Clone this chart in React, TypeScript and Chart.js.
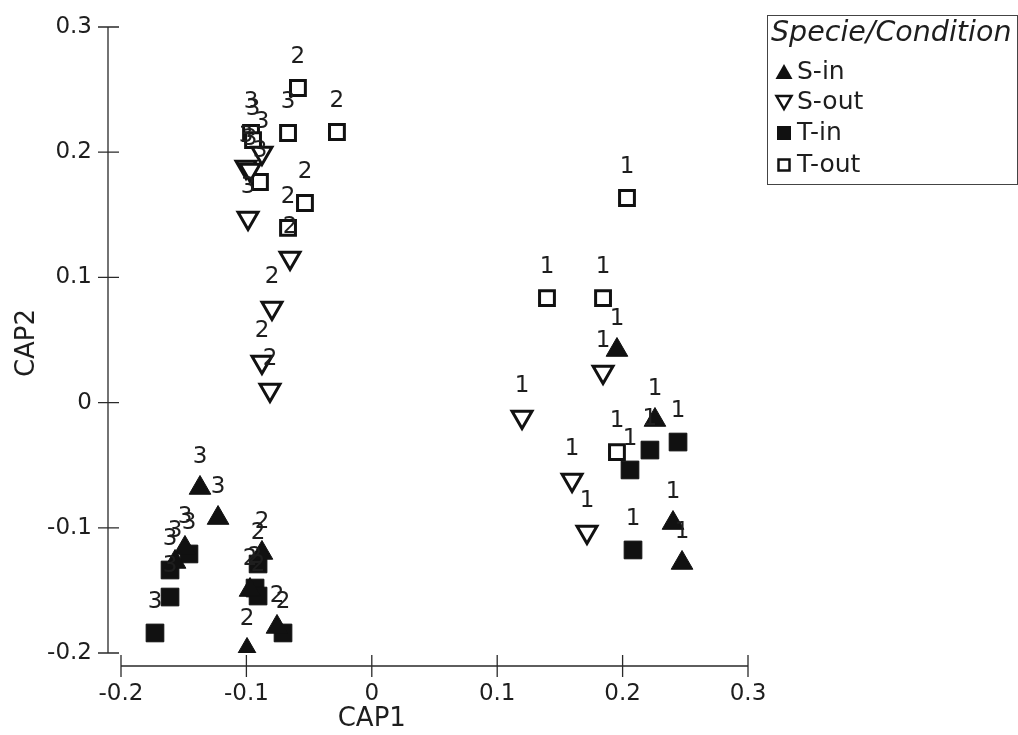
import React, { useEffect, useRef } from "react";
import { Chart, registerables } from "chart.js";

Chart.register(...registerables);

const FONT = "'DejaVu Sans', 'Liberation Sans', Arial, sans-serif";
const INK = "#111111";
const TEXT = "#1e1e1e";

const seriesLabels = ["S-in", "S-out", "T-in", "T-out"];

const sInCap1 = [0.1955, 0.2258, 0.2402, 0.2474, -0.0876, -0.0971, -0.0756, -0.0995, -0.137, -0.1226, -0.149, -0.1569];
const sInCap2 = [0.042, -0.0139, -0.0962, -0.1281, -0.1201, -0.1497, -0.1792, -0.1976, -0.0682, -0.0922, -0.1161, -0.1273];
const sInSite = ["1", "1", "1", "1", "2", "2", "2", "2", "3", "3", "3", "3"];

const sOutCap1 = [0.1844, 0.1198, 0.1597, 0.1716, -0.0652, -0.0796, -0.0876, -0.0812, -0.0876, -0.1003, -0.0971, -0.0987];
const sOutCap2 = [0.0244, -0.0115, -0.0618, -0.1034, 0.1155, 0.0756, 0.0324, 0.01, 0.1994, 0.1882, 0.1858, 0.1474];
const sOutSite = ["1", "1", "1", "1", "2", "2", "2", "2", "3", "3", "3", "3"];

const tInCap1 = [0.2218, 0.2442, 0.2059, 0.2083, -0.0907, -0.0931, -0.0907, -0.0708, -0.1458, -0.1609, -0.1609, -0.1729];
const tInCap2 = [-0.0379, -0.0315, -0.0538, -0.1177, -0.1289, -0.1481, -0.1545, -0.184, -0.1209, -0.1337, -0.1553, -0.184];
const tInSite = ["1", "1", "1", "1", "2", "2", "2", "2", "3", "3", "3", "3"];

const tOutCap1 = [0.2035, 0.1397, 0.1844, 0.1955, -0.0589, -0.0278, -0.0533, -0.0668, -0.0963, -0.0947, -0.0668, -0.0892];
const tOutCap2 = [0.1634, 0.0835, 0.0835, -0.0395, 0.2513, 0.2161, 0.1594, 0.1395, 0.2153, 0.2097, 0.2153, 0.1762];
const tOutSite = ["1", "1", "1", "1", "2", "2", "2", "2", "3", "3", "3", "3"];

const xTicks = [-0.2, -0.1, 0, 0.1, 0.2, 0.3];
const yTicks = [-0.2, -0.1, 0, 0.1, 0.2, 0.3];

const xTitle = "CAP1";
const yTitle = "CAP2";
const legendTitle = "Specie/Condition";

const siteLists = [sInSite, sOutSite, tInSite, tOutSite];

function pts(xs: number[], ys: number[]) {
  return xs.map((x, i) => ({ x, y: ys[i] }));
}

function fmt(v: number) {
  return String(Number(v.toFixed(1)));
}

const decorPlugin = {
  id: "decor",
  afterDatasetsDraw(chart: any) {
    const ctx = chart.ctx;
    ctx.save();
    ctx.fillStyle = TEXT;
    ctx.font = `23px ${FONT}`;
    ctx.textAlign = "center";
    ctx.textBaseline = "middle";
    siteLists.forEach((sites, i) => {
      const meta = chart.getDatasetMeta(i);
      meta.data.forEach((el: any, j: number) => {
        ctx.fillText(sites[j], el.x, el.y - 31);
      });
    });
    ctx.restore();
  },
  afterDraw(chart: any) {
    const ctx = chart.ctx;
    const xs = chart.scales.x;
    const ys = chart.scales.y;
    const ca = chart.chartArea;
    const axX = ca.left - 13;
    const axY = ca.bottom + 13;
    ctx.save();
    ctx.strokeStyle = "#2a2a2a";
    ctx.lineWidth = 1.3;
    ctx.beginPath();
    ctx.moveTo(axX, ys.getPixelForValue(yTicks[yTicks.length - 1]));
    ctx.lineTo(axX, ys.getPixelForValue(yTicks[0]));
    yTicks.forEach((t) => {
      const p = ys.getPixelForValue(t);
      ctx.moveTo(axX - 10, p);
      ctx.lineTo(axX + 11, p);
    });
    ctx.moveTo(xs.getPixelForValue(xTicks[0]), axY);
    ctx.lineTo(xs.getPixelForValue(xTicks[xTicks.length - 1]), axY);
    xTicks.forEach((t) => {
      const p = xs.getPixelForValue(t);
      ctx.moveTo(p, axY - 11);
      ctx.lineTo(p, axY + 11);
    });
    ctx.stroke();

    ctx.fillStyle = TEXT;
    ctx.font = `26px ${FONT}`;
    ctx.textAlign = "center";
    ctx.textBaseline = "middle";
    ctx.fillText(xTitle, xs.getPixelForValue(0), 719);
    ctx.save();
    ctx.translate(27, (ca.top + ca.bottom) / 2 + 3);
    ctx.rotate(-Math.PI / 2);
    ctx.fillText(yTitle, 0, 0);
    ctx.restore();

    const lx = 767.5, ly = 15.5, lw = 250, lh = 169;
    ctx.strokeStyle = "#444";
    ctx.lineWidth = 1;
    ctx.strokeRect(lx, ly, lw, lh);
    ctx.textAlign = "left";
    ctx.font = `italic 28.5px ${FONT}`;
    ctx.fillText(legendTitle, 771, 34);
    ctx.font = `25px ${FONT}`;
    const rows = [72, 102, 133, 165];
    chart.data.datasets.forEach((ds: any, i: number) => {
      const cy = rows[i];
      const cx = 784;
      ctx.fillText(ds.label, 797, cy);
      ctx.beginPath();
      ctx.strokeStyle = INK;
      ctx.fillStyle = INK;
      if (i === 0) {
        ctx.moveTo(cx, cy - 8);
        ctx.lineTo(cx + 8.5, cy + 7);
        ctx.lineTo(cx - 8.5, cy + 7);
        ctx.closePath();
        ctx.fill();
      } else if (i === 1) {
        ctx.lineWidth = 2.5;
        ctx.moveTo(cx - 7.5, cy - 6);
        ctx.lineTo(cx + 7.5, cy - 6);
        ctx.lineTo(cx, cy + 7);
        ctx.closePath();
        ctx.stroke();
      } else if (i === 2) {
        ctx.fillRect(cx - 7, cy - 7, 14, 14);
      } else {
        ctx.lineWidth = 2.5;
        ctx.strokeRect(cx - 5.5, cy - 5.5, 11, 11);
      }
      ctx.fillStyle = TEXT;
    });
    ctx.restore();
  },
};

export default function App() {
  const ref = useRef<HTMLCanvasElement | null>(null);
  useEffect(() => {
    if (!ref.current) return;
    const chart = new Chart(ref.current, {
      type: "scatter",
      data: {
        datasets: [
          {
            label: seriesLabels[0],
            data: pts(sInCap1, sInCap2),
            pointStyle: "triangle",
            pointRadius: 12.5,
            backgroundColor: INK,
            borderColor: INK,
            borderWidth: 1,
          },
          {
            label: seriesLabels[1],
            data: pts(sOutCap1, sOutCap2),
            pointStyle: "triangle",
            rotation: 180,
            pointRadius: 11.5,
            backgroundColor: "#ffffff",
            borderColor: INK,
            borderWidth: 3,
          },
          {
            label: seriesLabels[2],
            data: pts(tInCap1, tInCap2),
            pointStyle: "rect",
            pointRadius: 12.5,
            backgroundColor: INK,
            borderColor: INK,
            borderWidth: 1,
          },
          {
            label: seriesLabels[3],
            data: pts(tOutCap1, tOutCap2),
            pointStyle: "rect",
            pointRadius: 10.5,
            backgroundColor: "#ffffff",
            borderColor: INK,
            borderWidth: 3,
          },
        ] as any,
      },
      options: {
        animation: false,
        responsive: false,
        devicePixelRatio: 1,
        layout: { padding: { top: 27, right: 270, left: 0, bottom: 0 } },
        plugins: { legend: { display: false }, tooltip: { enabled: false } },
        scales: {
          x: {
            type: "linear",
            min: xTicks[0],
            max: xTicks[xTicks.length - 1],
            afterFit: (s: any) => { s.height = 82; s.paddingLeft = 0; s.paddingRight = 0; },
            afterBuildTicks: (s: any) => { s.ticks = xTicks.map((v) => ({ value: v })); },
            grid: { display: false, drawTicks: false },
            border: { display: false },
            ticks: {
              padding: 27,
              color: TEXT,
              font: { family: FONT, size: 23 },
              maxRotation: 0,
              callback: (v: any) => fmt(Number(v)),
            },
          },
          y: {
            type: "linear",
            min: yTicks[0],
            max: yTicks[yTicks.length - 1],
            afterFit: (s: any) => { s.width = 121; s.paddingTop = 0; s.paddingBottom = 0; },
            afterBuildTicks: (s: any) => { s.ticks = yTicks.map((v) => ({ value: v })); },
            grid: { display: false, drawTicks: false },
            border: { display: false },
            ticks: {
              padding: 29,
              color: TEXT,
              font: { family: FONT, size: 23 },
              callback: (v: any) => fmt(Number(v)),
            },
          },
        },
      } as any,
      plugins: [decorPlugin],
    });
    return () => chart.destroy();
  }, []);
  return (
    <div style={{ position: "fixed", left: 0, top: 0, width: 1018, height: 735, background: "#fff" }}>
      <canvas ref={ref} width={1018} height={735} />
    </div>
  );
}
